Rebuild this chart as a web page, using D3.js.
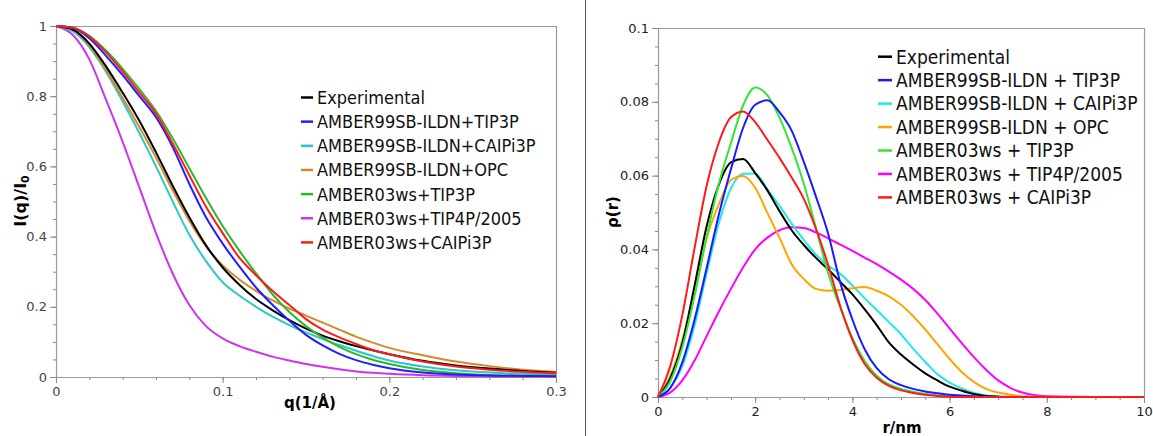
<!DOCTYPE html>
<html>
<head>
<meta charset="utf-8">
<script src="https://cdn.jsdelivr.net/npm/d3@7"></script>
<style>
  body { margin: 0; background: #fff; }
  svg { display: block; font-family: "DejaVu Sans", Verdana, sans-serif; }
</style>
</head>
<body>
<div id="chart"></div>
<script>
const width = 1153, height = 436;

// ---- left panel: normalised SAXS intensity I(q)/I0
const qValues = [0, 0.01, 0.02, 0.03, 0.04, 0.05, 0.06, 0.07, 0.08, 0.09, 0.1, 0.11, 0.12, 0.13, 0.14,
    0.15, 0.16, 0.17, 0.18, 0.19, 0.2, 0.22, 0.24, 0.26, 0.28, 0.3];
const saxsExperimental = [1, 0.99, 0.95, 0.885, 0.81, 0.73, 0.64, 0.545, 0.455, 0.375, 0.312, 0.263, 0.222,
    0.19, 0.162, 0.138, 0.118, 0.102, 0.088, 0.076, 0.065, 0.046, 0.033, 0.024, 0.017, 0.012];
const saxsA99Tip3p = [1, 0.995, 0.965, 0.915, 0.86, 0.8, 0.74, 0.655, 0.55, 0.455, 0.38, 0.315, 0.255,
    0.205, 0.16, 0.12, 0.09, 0.066, 0.048, 0.035, 0.025, 0.013, 0.007, 0.004, 0.003, 0.002];
const saxsA99Caipi3p = [1, 0.985, 0.94, 0.87, 0.785, 0.695, 0.6, 0.5, 0.405, 0.33, 0.27, 0.232, 0.2,
    0.172, 0.148, 0.127, 0.108, 0.091, 0.075, 0.06, 0.047, 0.03, 0.019, 0.013, 0.009, 0.007];
const saxsA99Opc = [1, 0.99, 0.945, 0.875, 0.795, 0.712, 0.625, 0.532, 0.445, 0.372, 0.318, 0.278, 0.245,
    0.218, 0.195, 0.175, 0.155, 0.135, 0.115, 0.098, 0.083, 0.062, 0.044, 0.031, 0.021, 0.015];
const saxsA03Tip3p = [1, 0.995, 0.972, 0.93, 0.878, 0.82, 0.758, 0.68, 0.595, 0.51, 0.43, 0.36, 0.295,
    0.235, 0.185, 0.145, 0.112, 0.086, 0.065, 0.049, 0.037, 0.02, 0.011, 0.006, 0.004, 0.003];
const saxsA03Tip4p = [1, 0.975, 0.905, 0.79, 0.67, 0.54, 0.41, 0.295, 0.205, 0.145, 0.11, 0.088, 0.072,
    0.058, 0.047, 0.037, 0.029, 0.022, 0.016, 0.012, 0.009, 0.005, 0.003, 0.002, 0.0015, 0.001];
const saxsA03Caipi3p = [1, 0.995, 0.97, 0.925, 0.87, 0.81, 0.75, 0.665, 0.575, 0.485, 0.41, 0.34, 0.29,
    0.245, 0.205, 0.165, 0.135, 0.113, 0.094, 0.077, 0.065, 0.044, 0.03, 0.021, 0.015, 0.011];
const saxsNames = ["Experimental", "AMBER99SB-ILDN+TIP3P", "AMBER99SB-ILDN+CAIPi3P", "AMBER99SB-ILDN+OPC",
    "AMBER03ws+TIP3P", "AMBER03ws+TIP4P/2005", "AMBER03ws+CAIPi3P"];
const saxsColors = ["#000000", "#1f1fff", "#2ec8c8", "#d48a2a", "#2ab82a", "#cc33ee", "#ff1a1a"];
const saxsTicksX = [0, 0.1, 0.2, 0.3];
const saxsTicksY = [0, 0.2, 0.4, 0.6, 0.8, 1];

// ---- right panel: pair distance distribution p(r)
const rValues = [0, 0.25, 0.5, 0.75, 1, 1.25, 1.5, 1.75, 2, 2.25, 2.5, 2.75, 3, 3.25, 3.5, 3.75, 4, 4.25,
    4.5, 4.75, 5, 5.25, 5.5, 5.75, 6, 6.25, 6.5, 6.75, 7, 7.25, 7.5, 8, 9, 10];
const prExperimental = [0, 0.005, 0.0145, 0.03, 0.0462, 0.0575, 0.0636, 0.0645, 0.0607, 0.056, 0.0504, 0.0452,
    0.0412, 0.0377, 0.0346, 0.0312, 0.0278, 0.0238, 0.0195, 0.0148, 0.0115, 0.0088, 0.0064, 0.0045, 0.0028,
    0.0017, 0.0008, 0.0003, 0.0001, 0, 0, 0, 0, 0];
const prA99Tip3p = [0, 0.0024, 0.0094, 0.0209, 0.0349, 0.0493, 0.0617, 0.0729, 0.0792, 0.0804, 0.0772, 0.0722,
    0.0637, 0.0543, 0.0443, 0.031, 0.021, 0.013, 0.0078, 0.0048, 0.0032, 0.0022, 0.0015, 0.001, 0.0006,
    0.0004, 0.0002, 0.0001, 0, 0, 0, 0, 0, 0];
const prA99Caipi3p = [0, 0.0025, 0.0084, 0.0193, 0.0335, 0.047, 0.0565, 0.0605, 0.0606, 0.0563, 0.0518, 0.047,
    0.0426, 0.0386, 0.0356, 0.0334, 0.0302, 0.0268, 0.0236, 0.0203, 0.017, 0.0131, 0.0095, 0.0062, 0.0039,
    0.0023, 0.0011, 0.0004, 0.0002, 0, 0, 0, 0, 0];
const prA99Opc = [0, 0.0056, 0.0154, 0.029, 0.043, 0.0522, 0.0588, 0.0599, 0.0567, 0.0499, 0.0432, 0.036,
    0.032, 0.0293, 0.0288, 0.029, 0.0295, 0.0298, 0.0288, 0.0273, 0.025, 0.0219, 0.0183, 0.0143, 0.0103,
    0.0068, 0.0041, 0.0022, 0.0012, 0.0006, 0.0002, 0, 0, 0];
const prA03Tip3p = [0, 0.0042, 0.0134, 0.0272, 0.0433, 0.0577, 0.0688, 0.079, 0.0839, 0.0818, 0.0757, 0.0675,
    0.0578, 0.0458, 0.0336, 0.0242, 0.016, 0.0098, 0.0058, 0.0034, 0.0022, 0.0014, 0.0008, 0.0004, 0.0002,
    0.0001, 0, 0, 0, 0, 0, 0, 0, 0];
const prA03Tip4p = [0, 0.0012, 0.0045, 0.0098, 0.0165, 0.0231, 0.0293, 0.0351, 0.04, 0.0432, 0.0452, 0.046,
    0.0458, 0.0446, 0.043, 0.0413, 0.0396, 0.0378, 0.036, 0.034, 0.0318, 0.0293, 0.0263, 0.0226, 0.0186,
    0.0146, 0.0108, 0.0074, 0.0045, 0.0025, 0.0012, 0.0002, 0, 0];
const prA03Caipi3p = [0, 0.0083, 0.0222, 0.0402, 0.0572, 0.0689, 0.0758, 0.0774, 0.0745, 0.0697, 0.0648, 0.0595,
    0.0537, 0.0456, 0.0358, 0.0246, 0.0155, 0.009, 0.0052, 0.003, 0.0018, 0.0011, 0.0006, 0.0003, 0.0001,
    0, 0, 0, 0, 0, 0, 0, 0, 0];
const prNames = ["Experimental", "AMBER99SB-ILDN + TIP3P", "AMBER99SB-ILDN + CAIPi3P", "AMBER99SB-ILDN + OPC",
    "AMBER03ws + TIP3P", "AMBER03ws + TIP4P/2005", "AMBER03ws + CAIPi3P"];
const prColors = ["#000000", "#1a1aff", "#22e8e8", "#ffa500", "#33e633", "#ff00ff", "#ff1a1a"];
const prTicksX = [0, 2, 4, 6, 8, 10];
const prTicksY = [0, 0.02, 0.04, 0.06, 0.08, 0.1];

const svg = d3.select("#chart")
    .append("svg")
    .attr("width", width)
    .attr("height", height);

// divider between the two panels
svg.append("line")
    .attr("x1", 585.5).attr("x2", 585.5)
    .attr("y1", 0).attr("y2", height)
    .attr("stroke", "#555").attr("stroke-width", 1);

function drawPanel(p) {
    const x = d3.scaleLinear().domain(p.xDomain).range([p.left, p.right]);
    const y = d3.scaleLinear().domain(p.yDomain).range([p.bottom, p.top]);
    const g = svg.append("g");

    // frame: top and right edges
    g.append("path")
        .attr("d", `M${p.left},${p.top + 0.5}H${p.right + 0.5}V${p.bottom}`)
        .attr("fill", "none").attr("stroke", "#999").attr("stroke-width", 1.2);

    // minor ticks
    g.append("g")
        .attr("transform", `translate(0,${p.bottom})`)
        .call(d3.axisBottom(x).tickValues(p.minorX).tickSize(3).tickFormat(""))
        .call(a => a.select(".domain").remove());
    g.append("g")
        .attr("transform", `translate(${p.left},0)`)
        .call(d3.axisLeft(y).tickValues(p.minorY).tickSize(3).tickFormat(""))
        .call(a => a.select(".domain").remove());

    // major ticks + labels
    g.append("g")
        .attr("transform", `translate(0,${p.bottom})`)
        .call(d3.axisBottom(x).tickValues(p.ticksX).tickSize(6).tickSizeOuter(0).tickPadding(4)
            .tickFormat(d => String(d)));
    g.append("g")
        .attr("transform", `translate(${p.left},0)`)
        .call(d3.axisLeft(y).tickValues(p.ticksY).tickSize(6).tickSizeOuter(0).tickPadding(3)
            .tickFormat(d => String(d)));
    g.selectAll(".tick line").attr("stroke", "#888");
    g.selectAll(".domain").attr("stroke", "#999").attr("stroke-width", 1.2);
    g.selectAll(".tick text").attr("font-size", 13).attr("fill", p.tickColor)
        .attr("font-family", '"DejaVu Sans", Verdana, sans-serif');

    // curves
    const line = d3.line()
        .x(d => x(d[0]))
        .y(d => y(d[1]))
        .curve(d3.curveMonotoneX);
    const order = [5, 2, 3, 0, 4, 1, 6];
    order.forEach(i => {
        g.append("path")
            .datum(p.xs.map((v, k) => [v, p.series[i][k]]))
            .attr("d", line)
            .attr("fill", "none")
            .attr("stroke", p.colors[i])
            .attr("stroke-width", 2)
            .attr("stroke-linejoin", "round");
    });

    // legend
    const leg = g.append("g");
    p.names.forEach((name, i) => {
        const ly = p.legY + i * p.legStep;
        leg.append("line")
            .attr("x1", p.legX).attr("x2", p.legX + p.legLine)
            .attr("y1", ly).attr("y2", ly)
            .attr("stroke", p.colors[i]).attr("stroke-width", 2.5);
        leg.append("text")
            .attr("transform", `translate(${p.legX + p.legLine + 4},${ly}) scale(0.9,1)`)
            .attr("dy", "0.36em")
            .attr("font-size", p.legFont)
            .attr("fill", "#111")
            .text(name);
    });
    return g;
}

const left = drawPanel({
    xDomain: [0, 0.3], yDomain: [0, 1],
    left: 56, right: 556, top: 26, bottom: 377,
    ticksX: saxsTicksX, ticksY: saxsTicksY,
    minorX: d3.range(0, 0.3001, 0.02), minorY: d3.range(0, 1.0001, 0.05),
    tickColor: "#444",
    xs: qValues,
    series: [saxsExperimental, saxsA99Tip3p, saxsA99Caipi3p, saxsA99Opc, saxsA03Tip3p, saxsA03Tip4p, saxsA03Caipi3p],
    names: saxsNames, colors: saxsColors,
    legX: 301, legY: 97.5, legStep: 24.15, legLine: 12, legFont: 18
});

const right = drawPanel({
    xDomain: [0, 10], yDomain: [0, 0.1],
    left: 658, right: 1144, top: 28, bottom: 397,
    ticksX: prTicksX, ticksY: prTicksY,
    minorX: d3.range(0, 10.001, 0.5), minorY: d3.range(0, 0.1001, 0.005),
    tickColor: "#222",
    xs: rValues,
    series: [prExperimental, prA99Tip3p, prA99Caipi3p, prA99Opc, prA03Tip3p, prA03Tip4p, prA03Caipi3p],
    names: prNames, colors: prColors,
    legX: 878, legY: 56.7, legStep: 23.45, legLine: 14, legFont: 19
});

// axis titles
left.append("text")
    .attr("x", 310).attr("y", 403).attr("dy", "0.35em")
    .attr("text-anchor", "middle").attr("font-size", 15).attr("font-weight", "bold")
    .text("q(1/Å)");
const yl = left.append("text")
    .attr("transform", "translate(20,201) rotate(-90)")
    .attr("dy", "0.35em")
    .attr("text-anchor", "middle").attr("font-size", 16).attr("font-weight", "bold");
yl.append("tspan").text("I(q)/I");
yl.append("tspan").attr("font-size", 11).attr("dy", "0.3em").text("0");

right.append("text")
    .attr("x", 902).attr("y", 428).attr("dy", "0.35em")
    .attr("text-anchor", "middle").attr("font-size", 15).attr("font-weight", "bold")
    .text("r/nm");
right.append("text")
    .attr("transform", "translate(613,212) rotate(-90)")
    .attr("dy", "0.35em")
    .attr("text-anchor", "middle").attr("font-size", 15).attr("font-weight", "bold")
    .text("ρ(r)");
</script>
</body>
</html>
